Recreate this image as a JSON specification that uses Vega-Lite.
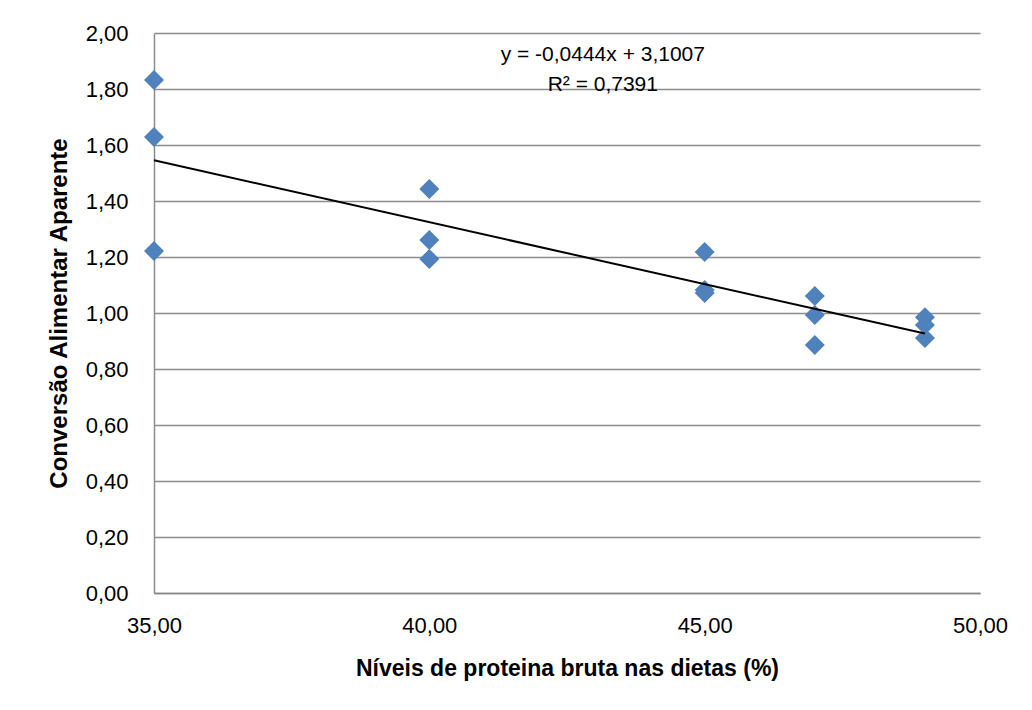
{
  "$schema": "https://vega.github.io/schema/vega-lite/v6.json",
  "width": 826,
  "height": 560,
  "autosize": {"type": "none"},
  "padding": {"left": 154, "top": 33, "right": 52, "bottom": 117},
  "background": "white",
  "config": {
    "locale": {"number": {"decimal": ",", "thousands": ".", "grouping": [3], "currency": ["", ""]}},
    "view": {"stroke": null},
    "font": "Liberation Sans"
  },
  "datasets": {
    "pontos": [
      {"proteina": 35, "conversao": 1.832},
      {"proteina": 35, "conversao": 1.629},
      {"proteina": 35, "conversao": 1.221},
      {"proteina": 40, "conversao": 1.443},
      {"proteina": 40, "conversao": 1.261},
      {"proteina": 40, "conversao": 1.193},
      {"proteina": 45, "conversao": 1.218},
      {"proteina": 45, "conversao": 1.082},
      {"proteina": 45, "conversao": 1.071},
      {"proteina": 47, "conversao": 1.061},
      {"proteina": 47, "conversao": 0.993},
      {"proteina": 47, "conversao": 0.886},
      {"proteina": 49, "conversao": 0.985},
      {"proteina": 49, "conversao": 0.957},
      {"proteina": 49, "conversao": 0.911}
    ],
    "anotacao": [
      {"linha": "y = -0,0444x + 3,1007"}
    ],
    "anotacao2": [
      {"linha": "R² = 0,7391"}
    ]
  },
  "layer": [
    {
      "data": {"name": "pontos"},
      "mark": {"type": "point", "shape": "diamond", "filled": true, "size": 400, "color": "#4F81BD", "opacity": 1, "strokeWidth": 0},
      "encoding": {
        "x": {
          "field": "proteina",
          "type": "quantitative",
          "scale": {"domain": [35, 50], "nice": false, "zero": false},
          "axis": {
            "values": [35, 40, 45, 50],
            "format": ".2f",
            "grid": false,
            "ticks": false,
            "tickSize": 0,
            "domainColor": "#868686",
            "domainWidth": 1.5,
            "labelFont": "Liberation Sans",
            "labelFontSize": 22,
            "labelColor": "#000000",
            "labelPadding": 22,
            "labelFlush": false,
            "title": "Níveis de proteina bruta nas dietas (%)",
            "titleFont": "Liberation Sans",
            "titleFontSize": 23,
            "titleFontWeight": "bold",
            "titleColor": "#000000",
            "titleX": 413,
            "titleY": 75,
            "titleAlign": "center",
            "titleBaseline": "middle"
          }
        },
        "y": {
          "field": "conversao",
          "type": "quantitative",
          "scale": {"domain": [0, 2], "nice": false},
          "axis": {
            "values": [0, 0.2, 0.4, 0.6, 0.8, 1.0, 1.2, 1.4, 1.6, 1.8, 2.0],
            "format": ".2f",
            "grid": true,
            "gridColor": "#8c8c8c",
            "gridWidth": 1.5,
            "ticks": false,
            "tickSize": 0,
            "domainColor": "#8c8c8c",
            "domainWidth": 1.5,
            "labelFont": "Liberation Sans",
            "labelFontSize": 22,
            "labelColor": "#000000",
            "labelPadding": 26,
            "title": "Conversão Alimentar Aparente",
            "titleFont": "Liberation Sans",
            "titleFontSize": 24,
            "titleFontWeight": "bold",
            "titleColor": "#000000",
            "titleAngle": 270,
            "titleX": -95,
            "titleY": 280,
            "titleAlign": "center",
            "titleBaseline": "middle"
          }
        }
      }
    },
    {
      "data": {"name": "pontos"},
      "transform": [
        {"regression": "conversao", "on": "proteina", "method": "linear", "extent": [35, 49]}
      ],
      "mark": {"type": "line", "color": "#000000", "strokeWidth": 2},
      "encoding": {
        "x": {"field": "proteina", "type": "quantitative"},
        "y": {"field": "conversao", "type": "quantitative"}
      }
    },
    {
      "data": {"name": "anotacao"},
      "mark": {"type": "text", "font": "Liberation Sans", "fontSize": 21, "color": "#000000", "align": "center", "baseline": "middle"},
      "encoding": {
        "x": {"datum": 43.15, "type": "quantitative"},
        "y": {"datum": 1.921, "type": "quantitative"},
        "text": {"field": "linha", "type": "nominal"}
      }
    },
    {
      "data": {"name": "anotacao2"},
      "mark": {"type": "text", "font": "Liberation Sans", "fontSize": 21, "color": "#000000", "align": "center", "baseline": "middle"},
      "encoding": {
        "x": {"datum": 43.15, "type": "quantitative"},
        "y": {"datum": 1.814, "type": "quantitative"},
        "text": {"field": "linha", "type": "nominal"}
      }
    }
  ]
}
